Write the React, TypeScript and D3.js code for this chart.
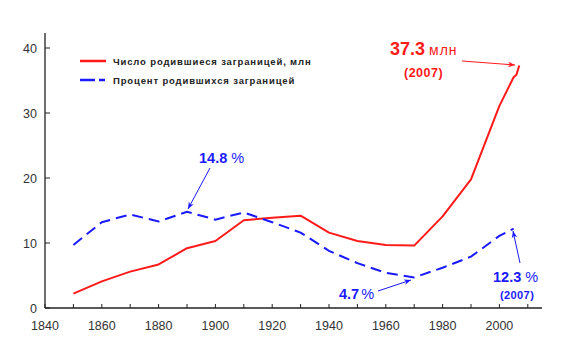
import React, { useEffect } from "react";
import * as d3 from "d3";

const years = [1850, 1860, 1870, 1880, 1890, 1900, 1910, 1920, 1930, 1940, 1950, 1960, 1970, 1980, 1990, 2000, 2005, 2006, 2007];
const foreignBorn = [2.2, 4.1, 5.6, 6.7, 9.2, 10.3, 13.5, 13.9, 14.2, 11.6, 10.3, 9.7, 9.6, 14.1, 19.8, 31.1, 35.5, 35.9, 37.3];

const pctYears = [1850, 1860, 1870, 1880, 1890, 1900, 1910, 1920, 1930, 1940, 1950, 1960, 1970, 1980, 1990, 2000, 2005];
const foreignPct = [9.7, 13.2, 14.4, 13.3, 14.8, 13.6, 14.7, 13.2, 11.6, 8.8, 6.9, 5.4, 4.7, 6.2, 7.9, 11.1, 12.2];

const xTicks = [1840, 1860, 1880, 1900, 1920, 1940, 1960, 1980, 2000];
const xMinorTicks = [1850, 1870, 1890, 1910, 1930, 1950, 1970, 1990, 2010];
const yTicks = [0, 10, 20, 30, 40];

const legendLabels = ["Число родившиеся заграницей, млн", "Процент родившихся заграницей"];

const W = 570;
const H = 351;

const App: React.FC = () => {
  useEffect(() => {
    document.body.style.margin = "0";
  }, []);

  const x = d3.scaleLinear().domain([1840, 2015]).range([45, 542]);
  const y = d3.scaleLinear().domain([0, 40]).range([308, 48]);

  const line = d3
    .line<[number, number]>()
    .x((d) => x(d[0]))
    .y((d) => y(d[1]));

  const redPts = years.map((yr, i) => [yr, foreignBorn[i]] as [number, number]);
  const bluePts = pctYears.map((yr, i) => [yr, foreignPct[i]] as [number, number]);

  const red = "#ff1a1a";
  const blue = "#1a1aff";
  const axisColor = "#222";
  const font = "'Liberation Sans', Arial, sans-serif";

  return (
    <svg width={W} height={H} style={{ display: "block", background: "#fff" }} fontFamily={font}>
      <defs>
        <marker id="arrRed" viewBox="0 0 10 10" refX="10" refY="5" markerWidth="7" markerHeight="7" orient="auto">
          <path d="M0,1 L10,5 L0,9 L3,5 Z" fill={red} />
        </marker>
        <marker id="arrBlue" viewBox="0 0 10 10" refX="10" refY="5" markerWidth="7" markerHeight="7" orient="auto">
          <path d="M0,1 L10,5 L0,9 L3,5 Z" fill={blue} />
        </marker>
      </defs>

      {/* оси */}
      <line x1={x(1840)} x2={x(1840)} y1={y(0)} y2={y(42.3)} stroke={axisColor} strokeWidth={1.3} />
      <line x1={x(1840)} x2={x(2015)} y1={y(0)} y2={y(0)} stroke={axisColor} strokeWidth={1.3} />

      {yTicks.map((t) => (
        <g key={t}>
          <line x1={x(1840)} x2={x(1840) + 5} y1={y(t)} y2={y(t)} stroke={axisColor} strokeWidth={1} />
          <text x={x(1840) - 8} y={y(t)} dy={4.5} textAnchor="end" fontSize={12.5} fill="#333">
            {t}
          </text>
        </g>
      ))}

      {xTicks.concat(xMinorTicks).map((t) => (
        <line key={t} x1={x(t)} x2={x(t)} y1={y(0)} y2={y(0) - 4} stroke={axisColor} strokeWidth={1} />
      ))}
      {xTicks.map((t) => (
        <text key={t} x={x(t)} y={y(0) + 22} textAnchor="middle" fontSize={12.5} fill="#333">
          {t}
        </text>
      ))}

      {/* линии */}
      <path d={line(redPts) || ""} fill="none" stroke={red} strokeWidth={2} strokeLinejoin="round" />
      <path d={line(bluePts) || ""} fill="none" stroke={blue} strokeWidth={2} strokeDasharray="11 6" />

      {/* легенда */}
      <line x1={80} x2={106} y1={61} y2={61} stroke={red} strokeWidth={2.5} />
      <text x={113} y={65} fontSize={9.5} fontWeight="bold" letterSpacing={0.85} fill="#222">
        {legendLabels[0]}
      </text>
      <line x1={80} x2={106} y1={80} y2={80} stroke={blue} strokeWidth={2.5} strokeDasharray="15 4 6 20" />
      <text x={113} y={84} fontSize={9.5} fontWeight="bold" letterSpacing={0.85} fill="#222">
        {legendLabels[1]}
      </text>

      {/* аннотации */}
      <text x={390} y={55} fill={red}>
        <tspan fontSize={18} fontWeight="bold">37.3</tspan>
        <tspan fontSize={14} dx={4} letterSpacing={1}>млн</tspan>
      </text>
      <text x={404} y={77} fill={red} fontWeight="bold" fontSize={12.5} letterSpacing={0.5}>
        (2007)
      </text>
      <line x1={462} y1={61} x2={515} y2={65} stroke={red} strokeWidth={1} markerEnd="url(#arrRed)" />

      <text x={199} y={163} fill={blue} fontWeight="bold" fontSize={14.5}>
        14.8 <tspan fontWeight="normal">%</tspan>
      </text>
      <line x1={210} y1={168} x2={188} y2={209} stroke={blue} strokeWidth={1} markerEnd="url(#arrBlue)" />

      <text x={339} y={299} fill={blue} fontWeight="bold" fontSize={14.5}>
        4.7<tspan fontWeight="normal" dx={2}>%</tspan>
      </text>
      <line x1={378} y1={291} x2={411} y2={280} stroke={blue} strokeWidth={1} markerEnd="url(#arrBlue)" />

      <text x={493} y={282} fill={blue} fontWeight="bold" fontSize={14.5}>
        12.3 <tspan fontWeight="normal">%</tspan>
      </text>
      <text x={500} y={299} fill={blue} fontWeight="bold" fontSize={11} letterSpacing={0.4}>
        (2007)
      </text>
      <line x1={520} y1={263} x2={513} y2={231} stroke={blue} strokeWidth={1} markerEnd="url(#arrBlue)" />
    </svg>
  );
};

export default App;
